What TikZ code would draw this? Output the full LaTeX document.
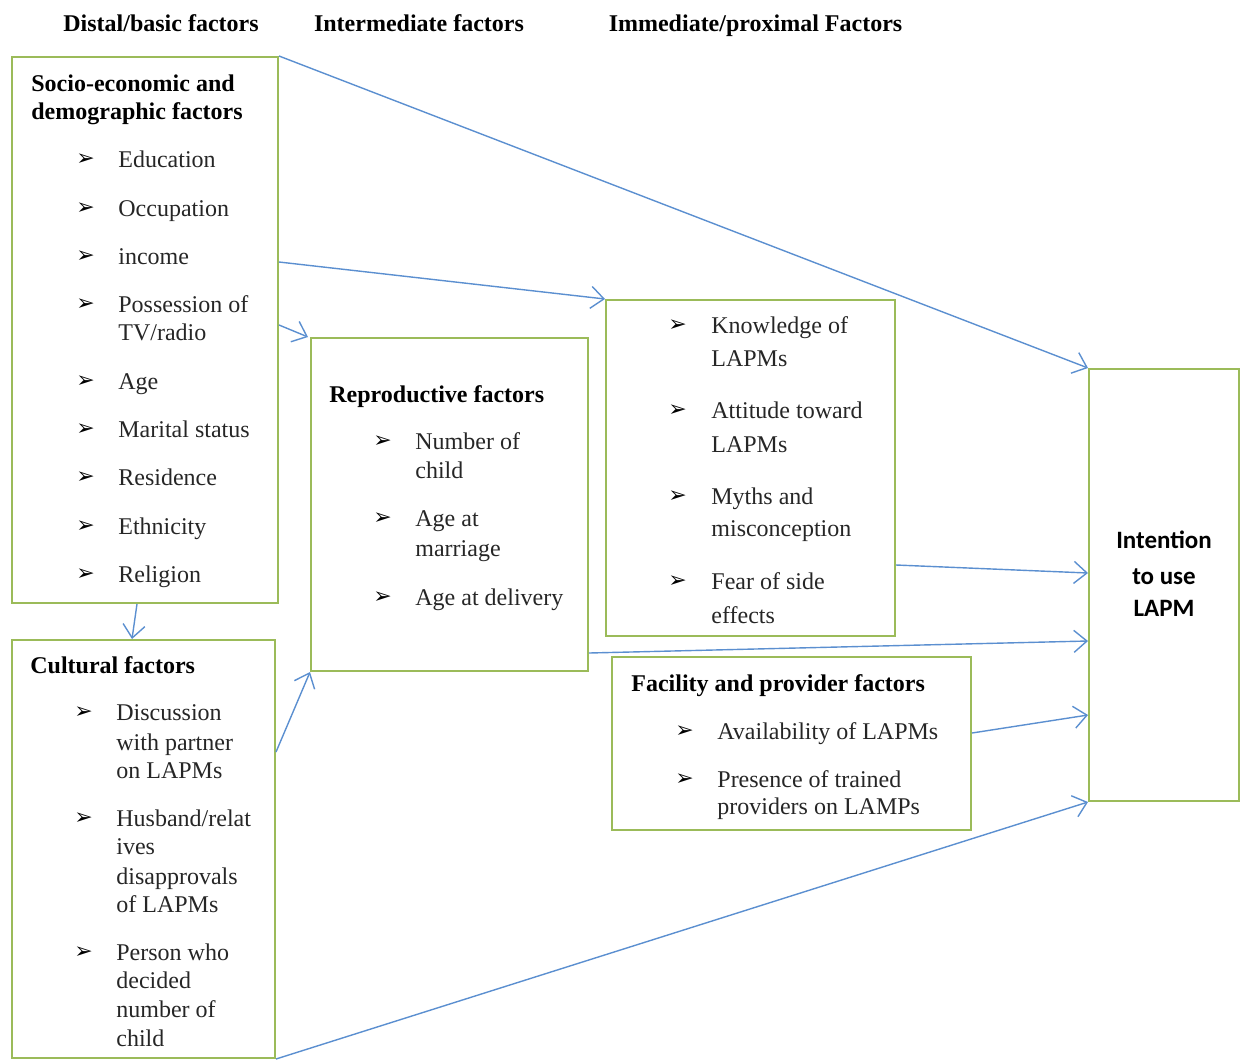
\documentclass[tikz,border=0pt]{standalone}
\usepackage{fontspec}
\setmainfont{Liberation Serif}
\newfontfamily\bulletfont{DejaVu Sans}
\newfontfamily\calfont{Carlito}
\usetikzlibrary{arrows.meta}
\definecolor{boxgreen}{HTML}{9BBB59}
\definecolor{arrowblue}{HTML}{5B8FD0}
\begin{document}
\begin{tikzpicture}[x=0.5pt,y=-0.5pt,
  box/.style={draw=boxgreen,line width=1pt,fill=none,inner sep=0pt},
  conn/.style={draw=arrowblue,line width=0.7pt,-{Straight Barb[length=6.5pt,width=11pt,line width=0.7pt]}},
  txt/.style={anchor=mid west,inner sep=0pt,yshift=-2pt,font=\fontsize{12}{14}\selectfont,text=black!85},
  btxt/.style={txt,font=\fontsize{12}{14}\selectfont\bfseries,text=black},
  hdr/.style={anchor=mid,inner sep=0pt,yshift=-2pt,font=\fontsize{12}{14}\selectfont\bfseries},
  bul/.style={anchor=mid west,inner sep=0pt,yshift=-1pt,font=\bulletfont\fontsize{11}{12}\selectfont},
  itxt/.style={anchor=mid,inner sep=0pt,yshift=-2pt,font=\calfont\fontsize{12.5}{14}\selectfont\bfseries}
]
\useasboundingbox (0,0) rectangle (1241,1061);

% headers
\node[hdr] (h1) at (161,23) {Distal/basic factors};
\node[hdr] (h2) at (419,23) {Intermediate factors};
\node[hdr] (h3) at (755.5,23) {Immediate/proximal Factors};

% boxes
\node[box,minimum width=133pt,minimum height=273pt] (soc) at (145,330) {};
\node[box,minimum width=131.5pt,minimum height=209pt] (cul) at (143.5,849) {};
\node[box,minimum width=138.5pt,minimum height=166.5pt] (rep) at (449.5,504.5) {};
\node[box,minimum width=144.5pt,minimum height=168pt] (know) at (750.5,468) {};
\node[box,minimum width=179.5pt,minimum height=86.5pt] (fac) at (791.5,743.5) {};
\node[box,minimum width=75pt,minimum height=216pt] (int) at (1164,585) {};

% socio-economic box
\node[btxt] (st1) at (31,83) {Socio-economic and};
\node[btxt] (st2) at (31,111) {demographic factors};
\foreach \y in {159,208,256,304,381,429,477,526,574}
  \node[bul] (sb\y) at (76,\y) {➢};
\foreach \y/\t in {159/{Education},208/{Occupation},256/{income},304/{Possession of},332/{TV/radio},381/{Age},429/{Marital status},477/{Residence},526/{Ethnicity},574/{Religion}}
  \node[txt] (s\y) at (118,\y) {\t};

% cultural box
\node[btxt] (ct) at (30,665) {Cultural factors};
\foreach \y in {712,818,952}
  \node[bul] (cb\y) at (74,\y) {➢};
\foreach \y/\t in {712/{Discussion},742/{with partner},770/{on LAPMs},818/{Husband/relat},846/{ives},876/{disapprovals},904/{of LAPMs},952/{Person who},980/{decided},1009/{number of},1038/{child}}
  \node[txt] (c\y) at (116,\y) {\t};

% reproductive box
\node[btxt] (rt) at (329,394) {Reproductive factors};
\foreach \y in {441,518,597}
  \node[bul] (rb\y) at (373,\y) {➢};
\foreach \y/\t in {441/{Number of},470/{child},518/{Age at},548/{marriage},597/{Age at delivery}}
  \node[txt] (r\y) at (415,\y) {\t};

% knowledge box
\foreach \y in {325,410,496,581}
  \node[bul] (kb\y) at (668,\y) {➢};
\foreach \y/\t in {325/{Knowledge of},358/{LAPMs},410/{Attitude toward},444/{LAPMs},496/{Myths and},528/{misconception},581/{Fear of side},615/{effects}}
  \node[txt] (k\y) at (711,\y) {\t};

% facility box
\node[btxt] (ft) at (631,683) {Facility and provider factors};
\foreach \y in {731,779}
  \node[bul] (fb\y) at (675,\y) {➢};
\foreach \y/\t in {731/{Availability of LAPMs},779/{Presence of trained},806/{providers on LAMPs}}
  \node[txt] (f\y) at (717,\y) {\t};

% intention box
\node[itxt] (i1) at (1164,540) {Intention};
\node[itxt] (i2) at (1164,576) {to use};
\node[itxt] (i3) at (1164,608) {LAPM};

% connectors
\draw[conn] (soc.north east) -- (int.north west);
\draw[conn] ([yshift=34pt]soc.east) -- (know.north west);
\draw[conn] ([yshift=2.5pt]soc.east) -- ([xshift=-1pt]rep.north west);
\draw[conn] ([xshift=-4pt]soc.south) -- ([xshift=-5.75pt]cul.north);
\draw[conn] ([yshift=48.5pt]cul.east) -- (rep.south west);
\draw[conn] ([yshift=-48.5pt]know.east) -- ([yshift=6pt]int.west);
\draw[conn] ([yshift=-74.25pt]rep.east) -- ([yshift=-28pt]int.west);
\draw[conn] ([yshift=5.25pt]fac.east) -- ([yshift=-65pt]int.west);
\draw[conn] (cul.south east) -- (int.south west);
\end{tikzpicture}
\end{document}
